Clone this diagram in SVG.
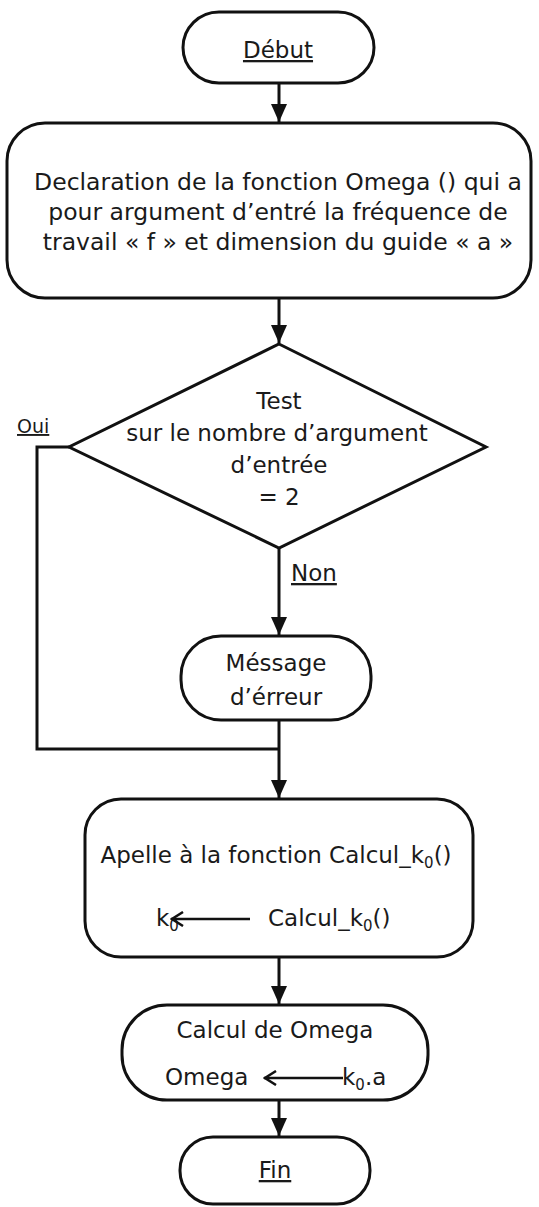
<svg xmlns="http://www.w3.org/2000/svg" width="539" height="1207" viewBox="0 0 539 1207">
  <style>
    .shape { fill: #ffffff; stroke: #111111; stroke-width: 3; }
    .wire { fill: none; stroke: #111111; stroke-width: 3; }
    .thin { fill: none; stroke: #111111; stroke-width: 2.5; }
    .lbl { font-family: "DejaVu Sans", Verdana, sans-serif; font-size: 23px; fill: #1a1a1a; }
    .big { font-size: 23.5px; }
    .mid { text-anchor: middle; }
    .ul { text-decoration: underline; }
    .sub { font-size: 15px; }
  </style>
  <defs>
    <marker id="down" viewBox="0 0 16 18" refX="8" refY="18" markerWidth="16" markerHeight="18" markerUnits="userSpaceOnUse" orient="0">
      <path d="M0,0 L16,0 L8,18 Z" fill="#111111"/>
    </marker>
    <marker id="chev" viewBox="0 0 14 16" refX="1" refY="8" markerWidth="14" markerHeight="16" markerUnits="userSpaceOnUse" orient="0">
      <path d="M13,1 L2,8 L13,15" fill="none" stroke="#111111" stroke-width="2.5"/>
    </marker>
  </defs>

  <!-- connectors -->
  <g id="connectors">
    <line class="wire" x1="279" y1="83" x2="279" y2="122" marker-end="url(#down)"/>
    <line class="wire" x1="279" y1="298" x2="279" y2="343" marker-end="url(#down)"/>
    <line class="wire" x1="279" y1="548" x2="279" y2="635" marker-end="url(#down)"/>
    <polyline class="wire" points="69,447 37,447 37,749 279,749"/>
    <line class="wire" x1="279" y1="720" x2="279" y2="798" marker-end="url(#down)"/>
    <line class="wire" x1="279" y1="957" x2="279" y2="1004" marker-end="url(#down)"/>
    <line class="wire" x1="279" y1="1100" x2="279" y2="1136" marker-end="url(#down)"/>
    <text class="lbl ul" x="17" y="433" style="font-size:19px">Oui</text>
    <text class="lbl ul" x="291" y="581">Non</text>
  </g>

  <!-- start -->
  <g id="debut">
    <rect class="shape" x="183" y="12" width="191" height="71" rx="36"/>
    <text class="lbl mid ul" x="278" y="58">Début</text>
  </g>

  <!-- declaration -->
  <g id="declaration">
    <rect class="shape" x="7" y="123" width="524" height="175" rx="38"/>
    <text class="lbl big mid" x="278" y="190">Declaration de la fonction Omega () qui a</text>
    <text class="lbl big mid" x="278" y="220">pour argument d’entré la fréquence de</text>
    <text class="lbl big mid" x="278" y="250">travail « f » et dimension du guide « a »</text>
  </g>

  <!-- test -->
  <g id="test">
    <polygon class="shape" points="279,344 486,447 279,548 69,447"/>
    <text class="lbl mid" x="279" y="409">Test</text>
    <text class="lbl mid" x="277" y="441">sur le nombre d’argument</text>
    <text class="lbl mid" x="279" y="473">d’entrée</text>
    <text class="lbl mid" x="279" y="505">= 2</text>
  </g>

  <!-- error message -->
  <g id="message">
    <rect class="shape" x="181" y="636" width="190" height="84" rx="40"/>
    <text class="lbl mid" x="276" y="671">Méssage</text>
    <text class="lbl mid" x="276" y="705">d’érreur</text>
  </g>

  <!-- call -->
  <g id="appel">
    <rect class="shape" x="85" y="799" width="388" height="158" rx="36"/>
    <text class="lbl mid" x="276" y="863">Apelle à la fonction Calcul_k<tspan class="sub" dy="5">0</tspan><tspan dy="-5">()</tspan></text>
    <text class="lbl" x="156" y="926">k<tspan class="sub" dy="5">0</tspan></text>
    <line class="thin" x1="250" y1="919" x2="171" y2="919" marker-end="url(#chev)"/>
    <text class="lbl" x="268" y="926">Calcul_k<tspan class="sub" dy="5">0</tspan><tspan dy="-5">()</tspan></text>
  </g>

  <!-- omega -->
  <g id="omega">
    <rect class="shape" x="122" y="1005" width="306" height="95" rx="45"/>
    <text class="lbl mid" x="275" y="1038">Calcul de Omega</text>
    <text class="lbl" x="165" y="1085">Omega</text>
    <line class="thin" x1="343" y1="1078" x2="264" y2="1078" marker-end="url(#chev)"/>
    <text class="lbl" x="342" y="1085">k<tspan class="sub" dy="5">0</tspan><tspan dy="-5">.a</tspan></text>
  </g>

  <!-- end -->
  <g id="fin">
    <rect class="shape" x="180" y="1137" width="190" height="67" rx="33"/>
    <text class="lbl mid ul" x="275" y="1178">Fin</text>
  </g>
</svg>
